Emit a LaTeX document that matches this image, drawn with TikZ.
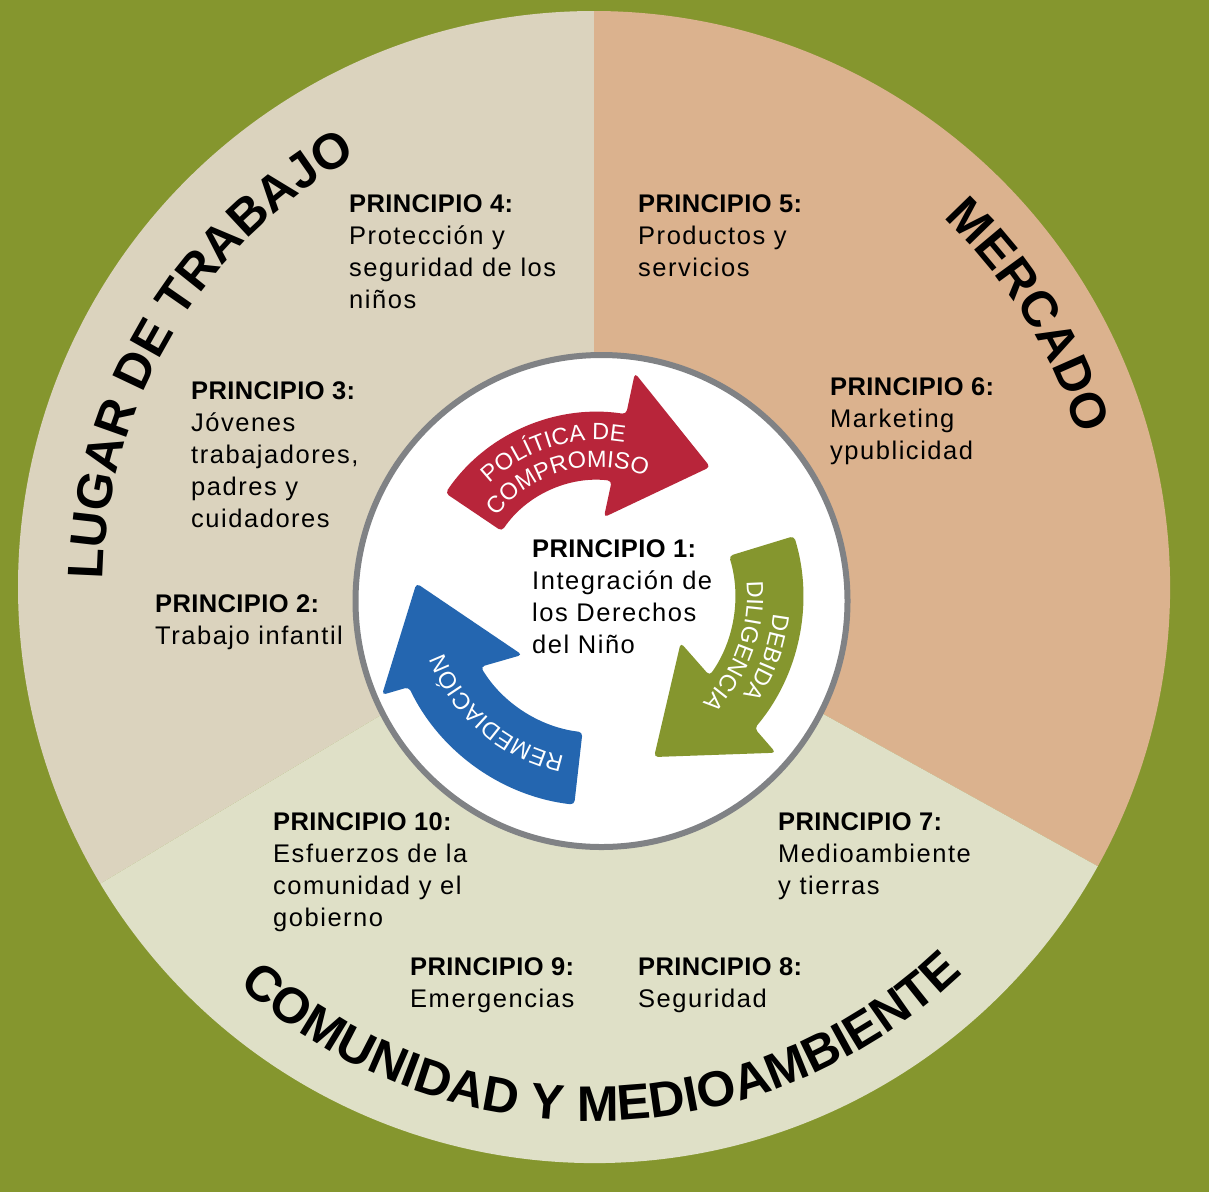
\documentclass[tikz,border=0pt]{standalone}
\usepackage{fontspec}
\setmainfont{Liberation Sans}
\newfontfamily\bodyfont[LetterSpace=6]{Liberation Sans}
\newfontfamily\boldhead[LetterSpace=1.5]{Liberation Sans}
\newfontfamily\headfont{Liberation Sans}
\usetikzlibrary{decorations.text}
\definecolor{bgolive}{RGB}{133,150,46}
\definecolor{beigeA}{RGB}{219,211,190}
\definecolor{tanB}{RGB}{219,178,142}
\definecolor{lightC}{RGB}{223,224,199}
\definecolor{redArr}{RGB}{184,37,58}
\definecolor{greenArr}{RGB}{133,150,46}
\definecolor{blueArr}{RGB}{36,102,176}
\definecolor{ringgray}{RGB}{128,130,133}
\newcommand\ttlfont{\headfont\bfseries\fontsize{50}{50}\selectfont}
\newcommand\arrfont{\headfont\fontsize{23.5}{23.5}\selectfont}
\newcommand\phead[1]{{\boldhead\bfseries #1}}
\begin{document}
\begin{tikzpicture}[x=1pt,y=1pt,
  ptext/.style={anchor=north west, inner sep=0pt, align=left,
    font=\bodyfont\fontsize{25.5}{32}\selectfont},
  arrowband/.style={rounded corners=4pt},
  arrlabel/.style={decorate, decoration={text along path, text align=center,
    text color=white}},
  ttl/.style={decorate, decoration={text along path, text align=center,
    text color=black}}]
\useasboundingbox (0,0) rectangle (1209,-1192);
\fill[bgolive] (0,0) rectangle (1209,-1192);
% outer wheel
\begin{scope}[shift={(594,-587)}]
  \coordinate (C) at (0,0);
  \fill[beigeA] (C) -- (90:576) arc[start angle=90,end angle=211,radius=576] -- cycle;
  \fill[tanB] (C) -- (-29:576) arc[start angle=-29,end angle=90,radius=576] -- cycle;
  \fill[lightC] (C) -- (211:576) arc[start angle=211,end angle=331,radius=576] -- cycle;
  \path[ttl, decoration={text={|\ttlfont|LUGAR DE TRABAJO}}]
    (189:491) arc[start angle=189,end angle=109,radius=491];
  \path[ttl, decoration={text={|\ttlfont|MERCADO}}]
    (62:508) arc[start angle=62,end angle=2,radius=508];
  \path[ttl, decoration={text={|\ttlfont|COMUNIDAD Y MEDIOAMBIENTE}}]
    (221:534) arc[start angle=221,end angle=321,radius=534];
\end{scope}
% inner circle
\node[circle, draw=ringgray, fill=white, line width=6pt, minimum size=492pt, inner sep=0pt] (hub) at (601.5,-601) {};
% arrows
\begin{scope}[shift={(598,-596)}]
  \fill[redArr, arrowband] (146:184) arc[start angle=146,end angle=81.2,radius=184]
    -- (80.6:226) -- (49:171) -- (85.7:79) -- (83.2:116)
    arc[start angle=83.2,end angle=146,radius=116] -- cycle;
  \fill[greenArr, arrowband] (17:205) arc[start angle=17,end angle=-40.2,radius=205]
    -- (-41.4:237) -- (-70.8:170.5) -- (-29.5:95) -- (-35.5:137)
    arc[start angle=-35.5,end angle=17,radius=137] -- cycle;
  \fill[blueArr, arrowband] (-96.5:210) arc[start angle=-96.5,end angle=-154.3,radius=210]
    -- (204.6:237.6) -- (176:182) -- (217.8:96) -- (211.1:137)
    arc[start angle=-148.9,end angle=-96.5,radius=137] -- cycle;
  \path[arrlabel, decoration={text={|\arrfont|POLÍTICA DE}}]
    (147:156) arc[start angle=147,end angle=67,radius=156];
  \path[arrlabel, decoration={text={|\arrfont|COMPROMISO}}]
    (145:129) arc[start angle=145,end angle=65,radius=129];
  \path[arrlabel, decoration={text={|\arrfont|DEBIDA}}]
    (20:176) arc[start angle=20,end angle=-60,radius=176];
  \path[arrlabel, decoration={text={|\arrfont|DILIGENCIA}}]
    (25:149) arc[start angle=25,end angle=-65,radius=149];
  \path[arrlabel, decoration={text={|\arrfont|REMEDIACIÓN}}]
    (-88:164) arc[start angle=-88,end angle=-173.6,radius=164];
\end{scope}
% principles
\node[ptext] (p1) at (532,-539) {\phead{PRINCIPIO 1:}\\Integración de\\los Derechos\\del Niño};
\node[ptext] (p2) at (155,-594) {\phead{PRINCIPIO 2:}\\Trabajo infantil};
\node[ptext] (p3) at (191,-381) {\phead{PRINCIPIO 3:}\\Jóvenes\\trabajadores,\\padres y\\cuidadores};
\node[ptext] (p4) at (349,-194) {\phead{PRINCIPIO 4:}\\Protección y\\seguridad de los\\niños};
\node[ptext] (p5) at (638,-194) {\phead{PRINCIPIO 5:}\\Productos y\\servicios};
\node[ptext] (p6) at (830,-377) {\phead{PRINCIPIO 6:}\\Marketing\\ypublicidad};
\node[ptext] (p7) at (778,-812) {\phead{PRINCIPIO 7:}\\Medioambiente\\y tierras};
\node[ptext] (p8) at (638,-957) {\phead{PRINCIPIO 8:}\\Seguridad};
\node[ptext] (p9) at (410,-957) {\phead{PRINCIPIO 9:}\\Emergencias};
\node[ptext] (p10) at (273,-812) {\phead{PRINCIPIO 10:}\\Esfuerzos de la\\comunidad y el\\gobierno};
\end{tikzpicture}
\end{document}
